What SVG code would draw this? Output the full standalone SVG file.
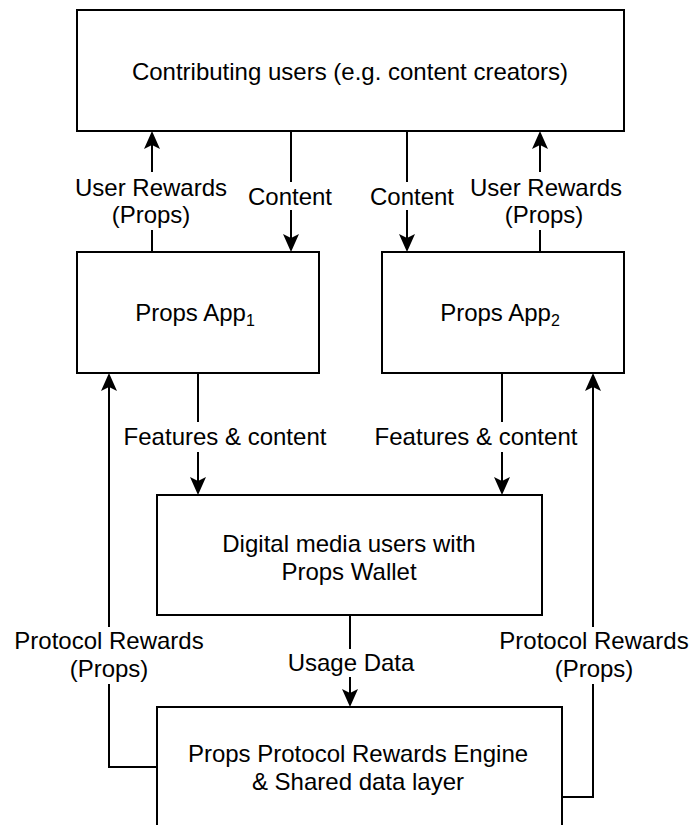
<svg xmlns="http://www.w3.org/2000/svg" width="691" height="825" viewBox="0 0 691 825">
  <style>
    .box { fill: #ffffff; stroke: #000000; stroke-width: 2; }
    .lbl { font-family: "Liberation Sans", Arial, Helvetica, sans-serif; font-size: 24px; fill: #000000; text-anchor: middle; }
    .edge { fill: none; stroke: #000000; stroke-width: 2; }
    .bg { fill: #ffffff; stroke: none; }
  </style>
  <defs>
    <marker id="arrow" viewBox="0 0 18 16" markerWidth="18" markerHeight="16" refX="14" refY="8" orient="auto" markerUnits="userSpaceOnUse">
      <path d="M0,0 L18,8 L0,16 L4,8 Z" fill="#000000"/>
    </marker>
  </defs>
  <rect x="0" y="0" width="691" height="825" fill="#ffffff"/>

  <g id="connectors">
    <path class="edge" d="M152,252 V135" marker-end="url(#arrow)"/>
    <path class="edge" d="M291,131 V248" marker-end="url(#arrow)"/>
    <path class="edge" d="M407,131 V248" marker-end="url(#arrow)"/>
    <path class="edge" d="M540,252 V135" marker-end="url(#arrow)"/>
    <path class="edge" d="M198,373 V491" marker-end="url(#arrow)"/>
    <path class="edge" d="M502,373 V491" marker-end="url(#arrow)"/>
    <path class="edge" d="M157,767 H109 V377" marker-end="url(#arrow)"/>
    <path class="edge" d="M562,797 H593 V377" marker-end="url(#arrow)"/>
    <path class="edge" d="M350,615 V703" marker-end="url(#arrow)"/>

    <g id="edge-labels">
      <rect class="bg" x="72" y="172" width="158" height="58"/>
      <text class="lbl" x="151" y="196">User Rewards</text>
      <text class="lbl" x="151" y="223">(Props)</text>

      <rect class="bg" x="246" y="182" width="88" height="28"/>
      <text class="lbl" x="290" y="205">Content</text>

      <rect class="bg" x="368" y="182" width="88" height="28"/>
      <text class="lbl" x="412" y="205">Content</text>

      <rect class="bg" x="468" y="172" width="156" height="58"/>
      <text class="lbl" x="546" y="196">User Rewards</text>
      <text class="lbl" x="544" y="223">(Props)</text>

      <rect class="bg" x="121" y="422" width="209" height="30"/>
      <text class="lbl" x="225" y="445">Features &amp; content</text>

      <rect class="bg" x="372" y="422" width="209" height="30"/>
      <text class="lbl" x="476" y="445">Features &amp; content</text>

      <rect class="bg" x="12" y="627" width="194" height="57"/>
      <text class="lbl" x="109" y="649">Protocol Rewards</text>
      <text class="lbl" x="109" y="677">(Props)</text>

      <rect class="bg" x="497" y="627" width="194" height="57"/>
      <text class="lbl" x="594" y="649">Protocol Rewards</text>
      <text class="lbl" x="594" y="677">(Props)</text>

      <rect class="bg" x="286" y="649" width="130" height="28"/>
      <text class="lbl" x="351" y="671">Usage Data</text>
    </g>
  </g>

  <g id="node-contributors">
    <rect class="box" x="77" y="10" width="547" height="121"/>
    <text class="lbl" x="350" y="80">Contributing users (e.g. content creators)</text>
  </g>

  <g id="node-app1">
    <rect class="box" x="77" y="252" width="242" height="121"/>
    <text class="lbl" x="195" y="321">Props App<tspan font-size="16" dy="5">1</tspan></text>
  </g>

  <g id="node-app2">
    <rect class="box" x="382" y="252" width="242" height="121"/>
    <text class="lbl" x="500" y="321">Props App<tspan font-size="16" dy="5">2</tspan></text>
  </g>

  <g id="node-wallet-users">
    <rect class="box" x="157" y="495" width="385" height="120"/>
    <text class="lbl" x="349" y="552">Digital media users with</text>
    <text class="lbl" x="349" y="580">Props Wallet</text>
  </g>

  <g id="node-engine">
    <rect class="box" x="157" y="707" width="405" height="130"/>
    <text class="lbl" x="358" y="762">Props Protocol Rewards Engine</text>
    <text class="lbl" x="358" y="790">&amp; Shared data layer</text>
  </g>
</svg>
